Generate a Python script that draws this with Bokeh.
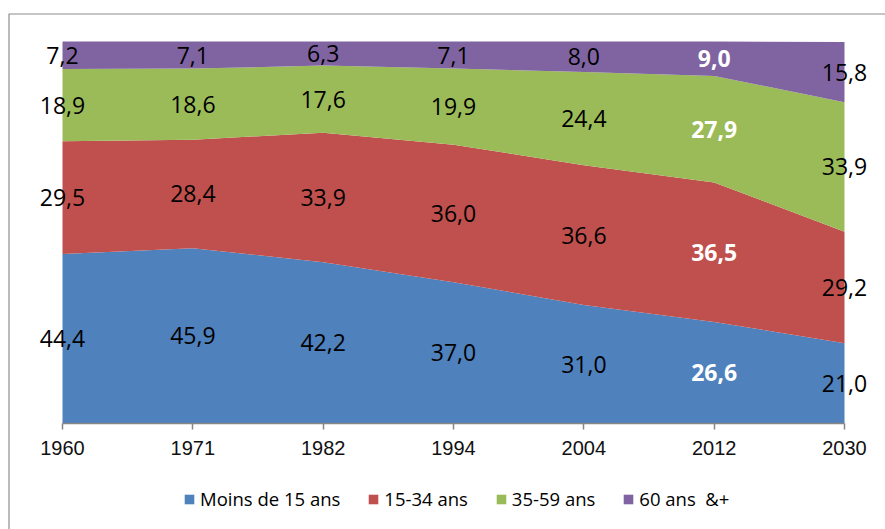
from bokeh.plotting import figure
from bokeh.models import ColumnDataSource, Range1d, FixedTicker, Legend, LegendItem
from bokeh.core.properties import value
from bokeh.embed import file_html
from bokeh.resources import INLINE

years = ["1960", "1971", "1982", "1994", "2004", "2012", "2030"]
series_names = ["Moins de 15 ans", "15-34 ans", "35-59 ans", "60 ans  &+"]
moins15 = [44.4, 45.9, 42.2, 37.0, 31.0, 26.6, 21.0]
ans15_34 = [29.5, 28.4, 33.9, 36.0, 36.6, 36.5, 29.2]
ans35_59 = [18.9, 18.6, 17.6, 19.9, 24.4, 27.9, 33.9]
ans60 = [7.2, 7.1, 6.3, 7.1, 8.0, 9.0, 15.8]
colors = ["#4F81BD", "#C0504D", "#9BBB59", "#8064A2"]
highlight_year = "2012"

series = [moins15, ans15_34, ans35_59, ans60]
keys = ["s0", "s1", "s2", "s3"]
xs = list(range(len(years)))

# layout (pixels on the canvas)
W, H = 885, 529
PX_LEFT, PX_RIGHT = 62.0, 844.0      # where first / last category sit
PY_BOTTOM, PY_TOP = 423.0, 41.0      # where 0 % / 100 % sit
ux = (PX_RIGHT - PX_LEFT) / (xs[-1] - xs[0])
uy = (PY_BOTTOM - PY_TOP) / 100.0
x0 = xs[0] - PX_LEFT / ux
y1 = 100 + PY_TOP / uy
x_range = Range1d(x0, xs[-1] + (W - PX_RIGHT) / ux)
y_range = Range1d(-(H - PY_BOTTOM) / uy, y1)


def dx(px):
    return x0 + px / ux


def dy(py):
    return y1 - py / uy


data = {"x": xs}
for k, s in zip(keys, series):
    data[k] = s
source = ColumnDataSource(data)

p = figure(width=W, height=H, output_backend="svg", toolbar_location=None,
           x_range=x_range, y_range=y_range, y_axis_location=None,
           title_location=None, min_border=0)
p.outline_line_color = None
p.xgrid.visible = False
p.ygrid.visible = False
p.background_fill_color = "white"
p.border_fill_color = "white"

# chart frame (top and left edges visible)
p.line(x=[dx(8.5), dx(8.5), dx(W + 10)], y=[dy(H + 10), dy(13.5), dy(13.5)],
       line_color="#8c8c8c", line_width=1.2)

renderers = p.varea_stack(stackers=keys, x="x", color=colors, source=source)

# data labels
lab_x, lab_y, lab_t = [], [], []
hl_x, hl_y, hl_t = [], [], []
for i, yr in enumerate(years):
    base = 0.0
    for s in series:
        v = s[i]
        mid = base + v / 2.0
        base += v
        t = ("%.1f" % v).replace(".", ",")
        if yr == highlight_year:
            hl_x.append(i); hl_y.append(mid); hl_t.append(t)
        else:
            lab_x.append(i); lab_y.append(mid); lab_t.append(t)

p.text(x=lab_x, y=lab_y, text=lab_t, text_align="center", text_baseline="middle",
       text_font=value("Open Sans"), text_font_size="23px", text_color="black")
p.text(x=hl_x, y=hl_y, text=hl_t, text_align="center", text_baseline="middle",
       text_font=value("Open Sans"), text_font_size="23px", text_color="white",
       text_font_style="bold")

ax = p.xaxis[0]
ax.fixed_location = 0
ax.ticker = FixedTicker(ticks=xs)
ax.bounds = (xs[0], xs[-1])
ax.major_label_overrides = {i: y for i, y in enumerate(years)}
ax.axis_line_color = "#868686"
ax.axis_line_width = 1.5
ax.major_tick_line_color = "#868686"
ax.major_tick_line_width = 1.5
ax.major_tick_out = 6
ax.major_tick_in = 0
ax.minor_tick_line_color = None
ax.major_label_standoff = 11
ax.major_label_text_font = "Liberation Sans"
ax.major_label_text_font_size = "20px"
ax.major_label_text_color = "#111111"

items = [LegendItem(label=n, renderers=[r]) for n, r in zip(series_names, renderers)]
legend = Legend(items=items, orientation="horizontal", location=(183, 18),
                glyph_width=12, glyph_height=12, label_standoff=5, spacing=27,
                padding=0, margin=0, border_line_color=None, background_fill_alpha=0,
                label_text_font="Open Sans", label_text_font_size="18.5px",
                label_text_color="black")
p.add_layout(legend, "center")

open("out.html", "w").write(file_html(p, INLINE))
